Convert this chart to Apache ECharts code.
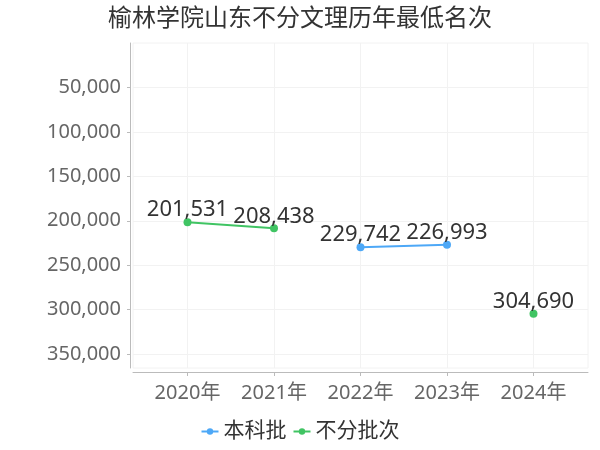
<!DOCTYPE html>
<html>
<head>
<meta charset="utf-8">
<script src="https://cdn.jsdelivr.net/npm/echarts@6/dist/echarts.min.js"></script>
<style>
  html, body { margin: 0; padding: 0; background: #fff; }
  #main { width: 600px; height: 450px; }
</style>
</head>
<body>
<div id="main"></div>
<script>
    var titleText = '榆林学院山东不分文理历年最低名次';
    var years = [2020, 2021, 2022, 2023, 2024];
    var benkeData = [null, null, 229742, 226993, null];
    var bufenData = [201531, 208438, null, null, 304690];
    var yTicks = [50000, 100000, 150000, 200000, 250000, 300000, 350000];

    function pairs(vals) {
        var out = [];
        for (var i = 0; i < years.length; i++) {
            out.push([years[i], vals[i] == null ? '-' : vals[i]]);
        }
        return out;
    }

    var font = "'Noto Sans', 'Noto Sans CJK SC', sans-serif";
    var myChart = echarts.init(document.getElementById('main'));

    var labelOpt = {
        show: true,
        position: 'top',
        distance: -3,
        fontSize: 22,
        color: '#333',
        fontFamily: font,
        formatter: function (p) { return p.value[1].toLocaleString('en-US'); }
    };

    var option = {
        textStyle: { fontFamily: font },
        title: {
            text: titleText,
            left: 'center',
            top: 2,
            textStyle: { fontSize: 24, fontWeight: 'normal', color: '#333', fontFamily: font }
        },
        legend: {
            bottom: 3,
            left: 'center',
            itemWidth: 17,
            itemHeight: 8,
            itemGap: 6,
            textStyle: { fontSize: 21, color: '#333', fontFamily: font },
            data: ['本科批', '不分批次']
        },
        grid: {
            left: 133, right: 12, top: 43, bottom: 82,
            show: true, borderColor: '#f2f2f2', borderWidth: 1
        },
        xAxis: {
            type: 'value',
            min: 2019.37,
            max: 2024.63,
            offset: 4,
            axisLine: { show: true, onZero: false, lineStyle: { color: '#bbb' } },
            axisTick: { show: true, length: 4, customValues: years, lineStyle: { color: '#bbb' } },
            axisLabel: {
                customValues: years,
                fontSize: 20, color: '#666', margin: 11,
                formatter: function (v) { return v + '年'; }
            },
            splitLine: { show: true, lineStyle: { color: '#f2f2f2' } }
        },
        yAxis: {
            type: 'value',
            inverse: true,
            min: 0,
            max: 365628,
            offset: 3,
            axisLine: { show: true, onZero: false, lineStyle: { color: '#bbb' } },
            axisTick: { show: true, length: 3, customValues: yTicks, lineStyle: { color: '#bbb' } },
            axisLabel: {
                customValues: yTicks,
                fontSize: 20, color: '#666', margin: 9,
                formatter: function (v) { return v.toLocaleString('en-US'); }
            },
            splitLine: { show: true, lineStyle: { color: '#f2f2f2' } }
        },
        series: [
            {
                name: '本科批',
                type: 'line',
                data: pairs(benkeData),
                symbol: 'circle',
                symbolSize: 8,
                itemStyle: { color: '#4DA8F7' },
                lineStyle: { width: 2, color: '#4DA8F7' },
                label: labelOpt
            },
            {
                name: '不分批次',
                type: 'line',
                data: pairs(bufenData),
                symbol: 'circle',
                symbolSize: 8,
                itemStyle: { color: '#40C463' },
                lineStyle: { width: 2, color: '#40C463' },
                label: labelOpt
            }
        ]
    };
    myChart.setOption(option);
</script>
</body>
</html>
